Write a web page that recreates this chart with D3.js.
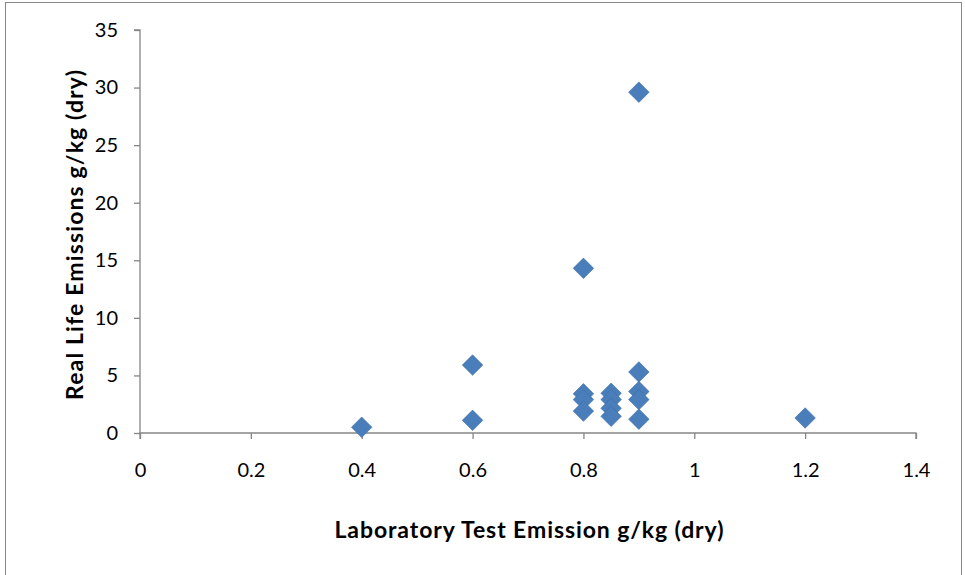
<!DOCTYPE html>
<html>
<head>
<meta charset="utf-8">
<script src="https://cdn.jsdelivr.net/npm/d3@7"></script>
<style>
  body { margin: 0; background: #fff; }
  text { font-family: Lato, "Open Sans", sans-serif; fill: #000; }
</style>
</head>
<body>
<div id="chart"></div>
<script>
// lab test emission (x) vs real life emission (y)
const labValues = [0.4, 0.6, 0.6, 0.8, 0.8, 0.8, 0.8, 0.85, 0.85, 0.85, 0.85, 0.9, 0.9, 0.9, 0.9, 0.9, 1.2];
const realValues = [0.5, 1.1, 5.9, 14.3, 3.4, 2.9, 1.9, 3.45, 2.9, 2.15, 1.45, 29.6, 5.3, 3.6, 2.9, 1.2, 1.3];
const xTicks = [0, 0.2, 0.4, 0.6, 0.8, 1, 1.2, 1.4];
const yTicks = [0, 5, 10, 15, 20, 25, 30, 35];

const width = 965, height = 575;
const margin = { top: 30, right: 49, bottom: 142, left: 140 };

const svg = d3.select("#chart").append("svg")
  .attr("width", width)
  .attr("height", height);

// outer frame
svg.append("rect")
  .attr("x", 5.5).attr("y", 2.5)
  .attr("width", 956).attr("height", 580)
  .attr("fill", "none")
  .attr("stroke", "#868686");

const x = d3.scaleLinear().domain([0, 1.4]).range([margin.left, width - margin.right]);
const y = d3.scaleLinear().domain([0, 35]).range([height - margin.bottom, margin.top]);

const xAxis = svg.append("g")
  .attr("transform", `translate(0,${y(0)})`)
  .call(d3.axisBottom(x).tickValues(xTicks).tickSize(6).tickPadding(24).tickFormat(d3.format("")));

const yAxis = svg.append("g")
  .attr("transform", `translate(${x(0)},0)`)
  .call(d3.axisLeft(y).tickValues(yTicks).tickSize(6).tickPadding(16));

[xAxis, yAxis].forEach(g => {
  g.selectAll("path, line").attr("stroke", "#868686").attr("stroke-width", 1.3);
  g.selectAll("text").style("font-size", "20px").attr("fill", "#000");
});
xAxis.select(".domain").attr("d", `M${x(0)},6V0H${x(1.4)}V6`);
yAxis.select(".domain").attr("d", `M-6,${y(35)}H0V${y(0)}`);

const pts = labValues.map((v, i) => ({ lab: v, real: realValues[i] }));

svg.append("g").selectAll("path")
  .data(pts)
  .enter()
  .append("path")
  .attr("d", d3.symbol().type(d3.symbolSquare).size(210))
  .attr("transform", d => `translate(${x(d.lab)},${y(d.real)}) rotate(45)`)
  .attr("fill", "#4A7EBB")
  .attr("stroke", "#3E6FA8")
  .attr("stroke-width", 0.6);

svg.append("text")
  .attr("x", 529).attr("y", 538)
  .attr("text-anchor", "middle")
  .attr("textLength", 389)
  .style("font-size", "23px")
  .style("font-weight", "bold")
  .text("Laboratory Test Emission  g/kg (dry)");

svg.append("text")
  .attr("transform", `translate(83,235) rotate(-90)`)
  .attr("text-anchor", "middle")
  .attr("textLength", 330)
  .style("font-size", "23px")
  .style("font-weight", "bold")
  .text("Real Life Emissions  g/kg (dry)");
</script>
</body>
</html>
